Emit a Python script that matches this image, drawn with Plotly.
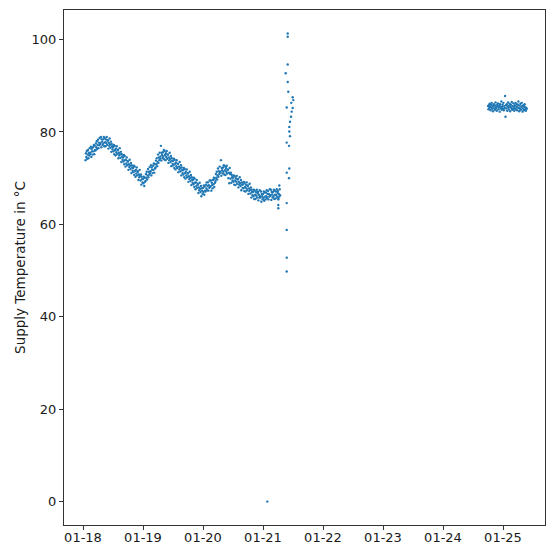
import pandas as pd
import plotly.graph_objects as go

# Main period: 01-18 01:00 to 01-21 ~06:00, 10-minute samples (6 per hour)
main_start = "2023-01-18 01:00"
main_values = [
    73.9, 75.4, 74.6, 75.9, 74.2, 75.1,  76.1, 74.3, 75.5, 74.9, 76.5, 75.2,
    75.5, 76.8, 74.6, 76.3, 75.8, 75.1,  76.7, 75.8, 77.2, 75.2, 77.0, 76.1,
    76.0, 77.5, 76.7, 78.0, 76.3, 77.2,  78.3, 76.5, 77.7, 77.1, 78.7, 77.4,
    77.6, 78.9, 76.7, 78.4, 77.9, 77.2,  78.4, 77.5, 78.9, 76.9, 78.7, 77.8,
    76.9, 78.4, 77.6, 78.9, 77.2, 78.1,  78.2, 76.4, 77.6, 77.0, 78.6, 77.3,
    76.6, 77.9, 75.7, 77.4, 76.9, 76.2,  76.7, 75.8, 77.2, 75.2, 77.0, 76.1,
    74.9, 76.4, 75.6, 76.9, 75.2, 76.1,  76.1, 74.3, 75.5, 74.9, 76.5, 75.2,
    74.4, 75.7, 73.5, 75.2, 74.7, 74.0,  74.5, 73.6, 75.0, 73.0, 74.8, 73.9,
    72.5, 74.0, 73.2, 74.5, 72.8, 73.7,  73.6, 71.8, 73.0, 72.4, 74.0, 72.7,
    72.0, 73.3, 71.1, 72.8, 72.3, 71.6,  72.2, 71.3, 72.7, 70.7, 72.5, 71.6,
    70.3, 71.8, 71.0, 72.3, 70.6, 71.5,  71.4, 69.6, 70.8, 70.2, 71.8, 70.5,
    69.5, 70.8, 68.6, 70.3, 69.8, 69.1,  69.8, 68.9, 70.3, 68.3, 70.1, 69.2,
    69.4, 70.9, 70.1, 71.4, 69.7, 70.6,  72.0, 70.2, 71.4, 70.8, 72.4, 71.1,
    71.5, 72.8, 70.6, 72.3, 71.8, 71.1,  72.7, 71.8, 73.2, 71.2, 73.0, 72.1,
    72.3, 73.8, 73.0, 74.3, 72.6, 73.5,  75.1, 73.3, 74.5, 73.9, 75.5, 74.2,
    74.7, 77.0, 73.8, 75.5, 75.0, 74.3,  75.6, 74.7, 76.1, 74.1, 75.9, 75.0,
    73.9, 75.4, 74.6, 75.9, 74.2, 75.1,  75.1, 73.3, 74.5, 73.9, 75.5, 74.2,
    73.5, 74.8, 72.6, 74.3, 73.8, 73.1,  73.7, 72.8, 74.2, 72.2, 74.0, 73.1,
    71.9, 73.4, 72.6, 73.9, 72.2, 73.1,  73.1, 71.3, 72.5, 71.9, 73.5, 72.2,
    71.5, 72.8, 70.6, 72.3, 71.8, 71.1,  71.7, 70.8, 72.2, 70.2, 72.0, 71.1,
    69.9, 71.4, 70.6, 71.9, 70.2, 71.1,  71.0, 69.2, 70.4, 69.8, 71.4, 70.1,
    69.4, 70.7, 68.5, 70.2, 69.7, 69.0,  69.6, 68.7, 70.1, 68.1, 69.9, 69.0,
    67.6, 69.1, 68.3, 69.6, 67.9, 68.8,  68.6, 66.8, 68.0, 67.4, 69.0, 67.7,
    67.0, 68.3, 66.1, 67.8, 67.3, 66.6,  67.9, 67.0, 68.4, 66.4, 68.2, 67.3,
    67.1, 68.6, 67.8, 69.1, 67.4, 68.3,  69.1, 67.3, 68.5, 67.9, 69.5, 68.2,
    68.2, 69.5, 67.3, 69.0, 68.5, 67.8,  69.6, 68.7, 70.1, 68.1, 69.9, 69.0,
    69.4, 70.9, 70.1, 71.4, 69.7, 70.6,  72.1, 70.3, 71.5, 70.9, 72.5, 71.2,
    71.4, 73.9, 70.5, 72.2, 71.7, 71.0,  72.3, 71.4, 72.8, 70.8, 72.6, 71.7,
    70.7, 72.2, 71.4, 72.7, 71.0, 71.9,  71.8, 70.0, 71.2, 68.9, 72.2, 70.9,
    69.9, 71.2, 69.0, 70.7, 70.2, 69.5,  70.1, 69.2, 70.6, 68.6, 70.4, 69.5,
    68.5, 70.0, 69.2, 70.5, 68.8, 69.7,  69.8, 68.0, 69.2, 68.6, 70.2, 68.9,
    68.3, 69.6, 67.4, 69.1, 68.6, 67.9,  68.7, 67.8, 69.2, 67.2, 69.0, 68.1,
    67.1, 68.6, 67.8, 69.1, 67.4, 68.3,  68.4, 66.6, 67.8, 67.2, 68.8, 67.5,
    66.7, 68.0, 65.8, 67.5, 67.0, 66.3,  67.0, 66.1, 67.5, 65.5, 67.3, 66.4,
    65.5, 67.0, 66.2, 67.5, 65.8, 66.7,  67.0, 65.2, 66.4, 65.8, 67.4, 66.1,
    65.8, 67.1, 64.9, 66.6, 66.1, 65.4,  66.6, 65.7, 67.1, 65.1, 66.9, 66.0,
    65.4, 66.9, 66.1, 67.4, 65.7, 66.6,  67.2, 65.4, 66.6, 66.0, 67.6, 66.3,
    66.2, 67.5, 65.3, 67.0, 66.5, 65.8,  67.0, 66.1, 67.5, 65.5, 67.3, 66.4,
    65.6, 67.1, 66.3, 67.6, 65.9, 66.8,  67.2, 65.4, 66.6, 66.0, 67.6, 66.3,
]

# Irregular readings around 01-21 (spike and drop-outs)
spike_times = [
    "2023-01-21 01:43", "2023-01-21 06:07", "2023-01-21 06:07", "2023-01-21 06:07",
    "2023-01-21 06:31", "2023-01-21 09:04", "2023-01-21 09:29", "2023-01-21 09:29",
    "2023-01-21 09:29", "2023-01-21 09:29", "2023-01-21 09:29", "2023-01-21 09:29",
    "2023-01-21 09:29", "2023-01-21 09:53", "2023-01-21 09:53", "2023-01-21 09:53",
    "2023-01-21 09:53", "2023-01-21 10:07", "2023-01-21 10:24", "2023-01-21 10:24",
    "2023-01-21 10:31", "2023-01-21 10:31", "2023-01-21 10:31", "2023-01-21 10:48",
    "2023-01-21 10:48", "2023-01-21 11:12", "2023-01-21 11:19", "2023-01-21 11:28",
    "2023-01-21 11:52", "2023-01-21 11:52", "2023-01-21 12:07",
]
spike_values = [
    0.0, 65.6, 64.2, 63.5,
    68.4, 92.7, 77.7, 71.2,
    64.6, 58.8, 52.8, 49.8,
    85.3, 101.3, 100.6, 94.6,
    90.8, 88.7, 77.0, 70.0,
    81.1, 80.1, 72.1, 82.2,
    79.1, 83.3, 86.3, 84.4,
    87.5, 85.2, 86.9,
]

# Later period: 01-24 18:00 to 01-25 ~09:30, 10-minute samples
late_start = "2023-01-24 18:00"
late_values = [
    85.6, 84.9, 85.8, 85.2, 86.1, 85.4, 84.7, 85.9, 85.3, 86.3,
    85.0, 85.7, 84.5, 85.5, 86.0, 85.1, 85.8, 84.8, 86.4, 85.4,
    85.2, 84.6, 85.9, 85.6, 86.2, 84.9, 85.3, 85.7, 84.4, 86.0,
    85.5, 85.1, 86.6, 84.8, 85.4, 85.9, 85.0, 86.3, 84.7, 85.6,
    85.2, 87.8, 83.3, 85.8, 85.1, 86.0, 84.6, 85.5, 86.4, 85.3,
    84.9, 85.7, 86.1, 84.5, 85.4, 85.9, 85.2, 86.5, 84.8, 85.6,
    85.0, 86.2, 85.4, 84.6, 85.8, 85.1, 86.3, 84.9, 85.5, 86.0,
    84.7, 85.3, 85.9, 86.6, 85.2, 84.5, 85.7, 85.0, 86.1, 84.8,
    85.4, 86.3, 85.6, 84.4, 85.1, 85.8, 84.7, 85.5, 86.0, 84.9,
    85.3, 84.6, 85.2, 85.0,
]

tick_dates = ["2023-01-18", "2023-01-19", "2023-01-20", "2023-01-21",
              "2023-01-22", "2023-01-23", "2023-01-24", "2023-01-25"]
tick_labels = ["01-18", "01-19", "01-20", "01-21", "01-22", "01-23", "01-24", "01-25"]

main_times = pd.date_range(main_start, periods=len(main_values), freq="10min")
late_times = pd.date_range(late_start, periods=len(late_values), freq="10min")

times = list(main_times) + list(pd.to_datetime(spike_times)) + list(late_times)
values = main_values + spike_values + late_values

color = "#1f77b4"
fig = go.Figure()
fig.add_trace(go.Scatter(
    x=times, y=values, mode="markers",
    marker=dict(color=color, size=2.4, line=dict(width=0)),
    showlegend=False,
))

font = dict(family="DejaVu Sans", size=13, color="#1a1a1a")
fig.update_layout(
    width=546, height=545,
    margin=dict(l=64, r=1, t=10, b=20),
    paper_bgcolor="white", plot_bgcolor="white",
    font=font,
    showlegend=False,
)
fig.update_xaxes(
    range=["2023-01-17 16:24", "2023-01-25 16:48"],
    tickmode="array", tickvals=tick_dates, ticktext=tick_labels,
    showgrid=False, zeroline=False, automargin=False,
    showline=True, linecolor="#333", linewidth=1, mirror=True,
    ticks="outside", ticklen=4, tickcolor="#333", tickwidth=1,
    tickfont=font, ticklabelstandoff=-4,
)
fig.update_yaxes(
    range=[-5.07, 106.4], dtick=20, tick0=0,
    showgrid=False, zeroline=False, automargin=False,
    showline=True, linecolor="#333", linewidth=1, mirror=True,
    ticks="outside", ticklen=4, tickcolor="#333", tickwidth=1,
    tickfont=font,
    title=dict(text="Supply Temperature in °C",
               font=dict(family="DejaVu Sans", size=13.5, color="#1a1a1a"), standoff=2),
)

fig.write_html(
    "out.html",
    config={"displayModeBar": False},
    post_script="document.body.style.margin='0';document.body.style.overflow='hidden';",
)
